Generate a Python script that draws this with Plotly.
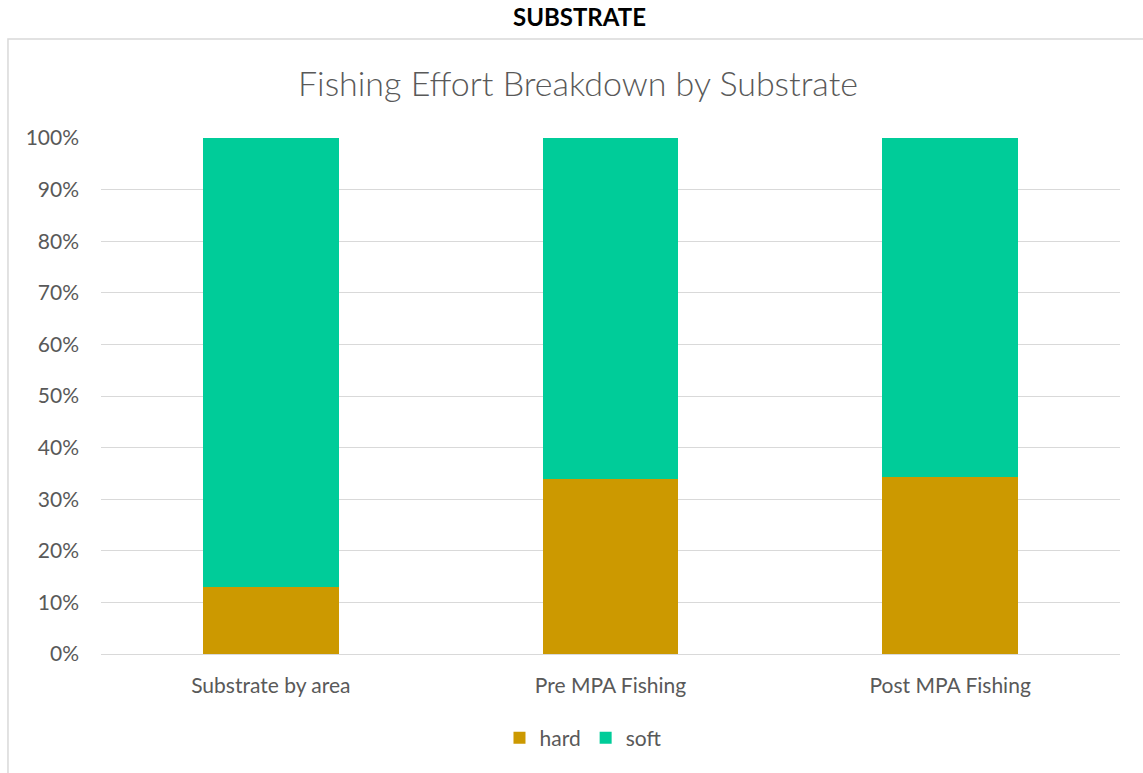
import plotly.graph_objects as go

# Share of fishing effort by substrate type
categories = ["Substrate by area", "Pre MPA Fishing", "Post MPA Fishing"]
hard = [0.13, 0.339, 0.343]
soft = [1 - v for v in hard]
y_ticks = [i / 10 for i in range(11)]
y_tick_text = [f"{i * 10}%" for i in range(11)]

HARD_COLOR = "#CC9900"
SOFT_COLOR = "#00CC99"
TEXT_GRAY = "#595959"
GRID_GRAY = "#D9D9D9"
FONT = "Lato"

fig = go.Figure()
fig.add_trace(go.Bar(name="hard", x=categories, y=hard, marker_color=HARD_COLOR,
                     marker_line_width=0))
fig.add_trace(go.Bar(name="soft", x=categories, y=soft, marker_color=SOFT_COLOR,
                     marker_line_width=0))

fig.update_layout(
    width=1143, height=773,
    barmode="stack", bargap=0.6,
    margin=dict(l=101, r=23, t=138, b=119),
    paper_bgcolor="white", plot_bgcolor="white",
    font=dict(family=FONT, color=TEXT_GRAY, size=21),
    showlegend=True,
    legend=dict(orientation="h", x=0.473, xanchor="center", y=-0.163, yanchor="middle",
                font=dict(size=21, color=TEXT_GRAY), itemwidth=30, traceorder="normal"),
)

fig.update_yaxes(range=[0, 1], tickvals=y_ticks, ticktext=y_tick_text,
                 showgrid=True, gridcolor=GRID_GRAY, gridwidth=1,
                 zeroline=False, showline=False, ticks="", ticklabelstandoff=21,
                 tickfont=dict(size=21, color=TEXT_GRAY))
fig.update_xaxes(showline=True, linecolor=GRID_GRAY, linewidth=1, ticks="",
                 ticklabelstandoff=13, tickfont=dict(size=21, color=TEXT_GRAY))

# Chart area border
fig.add_shape(type="rect", xref="paper", yref="paper",
              x0=-0.0913, x1=1.1, y0=-0.4, y1=1.1919,
              line=dict(color=GRID_GRAY, width=1.5), fillcolor="rgba(0,0,0,0)",
              layer="below")

# Section heading and chart title
fig.add_annotation(text="<b>SUBSTRATE</b>", xref="paper", yref="paper",
                   x=0.47, y=1.2345, xanchor="center", yanchor="middle",
                   showarrow=False, font=dict(size=24, color="black", family=FONT))
fig.add_annotation(text="Fishing Effort Breakdown by Substrate", xref="paper", yref="paper",
                   x=0.468, y=1.1066, xanchor="center", yanchor="middle",
                   showarrow=False, font=dict(size=34, color=TEXT_GRAY, family=FONT,
                                              weight=300))

fig.write_html("out.html")
